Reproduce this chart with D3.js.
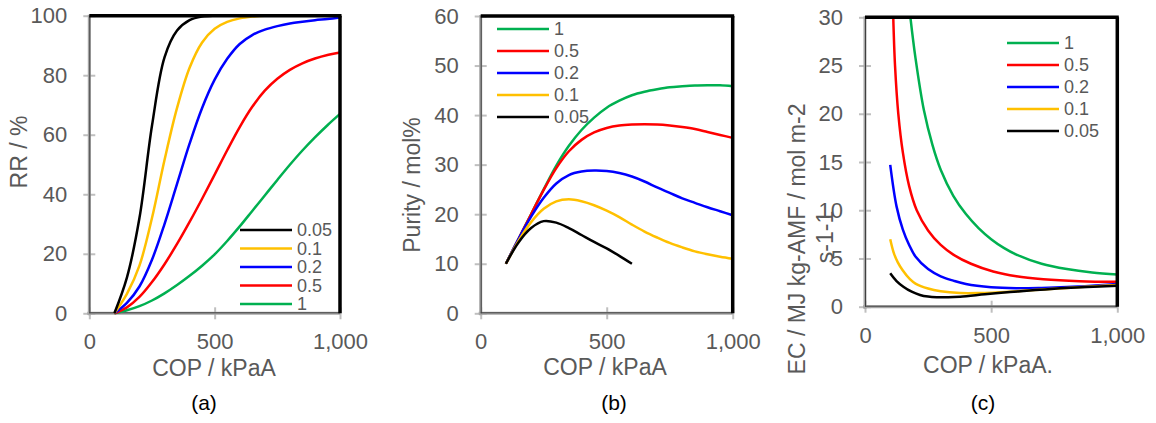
<!DOCTYPE html>
<html>
<head>
<meta charset="utf-8">
<script src="https://cdn.jsdelivr.net/npm/d3@7"></script>
<style>
  body { margin: 0; background: #fff; }
  text { font-family: "Liberation Sans", Arial, sans-serif; }
</style>
</head>
<body>
<svg id="chart" width="1156" height="423"></svg>
<script>
(function () {

    // series labels / colours shared by all three panels
    const names = ["0.05", "0.1", "0.2", "0.5", "1"];
    const colors = ["#000000", "#FFC000", "#0000FF", "#FF0000", "#00B050"];
    const xTicks = [0, 500, 1000];

    // COP points used for (a) and (b): 100, 150, ... 1000
    const copX = [100, 150, 200, 250, 300, 350, 400, 450, 500, 550, 600, 650, 700, 750, 800, 850, 900, 950, 1000];

    // (a) RR / %
    const rr005 = [0, 12, 32, 63, 86, 95, 98.5, 99.7, 100, 100, 100, 100, 100, 100, 100, 100, 100, 100, 100];
    const rr01 = [0, 6.5, 16, 32, 51.5, 69, 82.5, 91, 95.6, 97.9, 99.1, 99.7, 100, 100, 100, 100, 100, 100, 100];
    const rr02 = [0, 3.5, 9, 18, 30, 43.5, 57, 69, 78.5, 85.5, 90.5, 93.5, 95.3, 96.5, 97.4, 98, 98.5, 98.9, 99.4];
    const rr05 = [0, 2, 5.5, 10.5, 16.5, 23.3, 30.7, 38.5, 46.6, 54.8, 62.6, 69.4, 74.8, 78.8, 81.8, 84, 85.6, 86.8, 87.6];
    const rr1 = [0, 1, 2.4, 4.3, 6.7, 9.5, 12.6, 16, 19.8, 24.3, 29.2, 34.4, 39.6, 44.8, 49.9, 54.7, 59.1, 63.2, 67];
    const rrTicks = [0, 20, 40, 60, 80, 100];

    // (b) Purity / mol%
    const pu005 = [10, 14.3, 17.2, 18.6, 18.3, 17.2, 15.8, 14.4, 13.1, 11.6, 10, null, null, null, null, null, null, null, null];
    const pu01 = [10, 14.6, 18.4, 21.1, 22.6, 23, 22.6, 21.8, 20.7, 19.4, 17.9, 16.5, 15.3, 14.2, 13.3, 12.5, 11.9, 11.4, 11];
    const pu02 = [10, 15, 19.5, 23.3, 26.2, 27.9, 28.6, 28.8, 28.7, 28.3, 27.6, 26.6, 25.4, 24.3, 23.2, 22.3, 21.4, 20.6, 19.8];
    const pu05 = [10, 15, 20, 24.9, 29.3, 32.7, 35, 36.5, 37.4, 37.9, 38.1, 38.15, 38.1, 37.9, 37.6, 37.2, 36.6, 36, 35.4];
    const pu1 = [10, 15, 20, 25, 29.8, 33.8, 37, 39.5, 41.5, 42.9, 44, 44.7, 45.2, 45.6, 45.8, 45.95, 46, 46, 45.8];
    const puTicks = [0, 10, 20, 30, 40, 50, 60];

    // (c) EC, each curve has its own COP points
    const ec005X = [100, 125, 152, 185, 218, 250, 284, 330, 377, 475, 575, 675, 773, 880, 1000];
    const ec005 = [3.46, 2.65, 2.07, 1.55, 1.22, 1.05, 0.98, 0.98, 1.04, 1.28, 1.52, 1.72, 1.9, 2.05, 2.18];
    const ec01X = [100, 115, 130, 150, 178, 200, 250, 300, 377, 450, 575, 700, 800, 900, 1000];
    const ec01 = [7, 5.5, 4.6, 3.75, 2.85, 2.4, 1.88, 1.6, 1.42, 1.42, 1.56, 1.78, 1.95, 2.1, 2.25];
    const ec02X = [100, 125, 150, 175, 200, 250, 300, 350, 400, 500, 600, 700, 800, 900, 1000];
    const ec02 = [14.7, 10.4, 8, 6.4, 5.2, 3.9, 3.15, 2.7, 2.35, 2.02, 1.92, 1.95, 2.03, 2.17, 2.35];
    const ec05X = [112, 119, 132, 150, 175, 205, 250, 300, 350, 420, 508, 600, 707, 850, 1000];
    const ec05 = [30, 25, 20, 16, 12.5, 10, 7.9, 6.4, 5.4, 4.45, 3.65, 3.15, 2.85, 2.65, 2.58];
    const ec1X = [180, 200, 234, 267, 300, 350, 400, 450, 500, 550, 600, 700, 800, 900, 1000];
    const ec1 = [30, 25.8, 20.3, 16.8, 14.2, 11.5, 9.6, 8.15, 7.0, 6.1, 5.4, 4.45, 3.9, 3.55, 3.35];
    const ecTicks = [0, 5, 10, 15, 20, 25, 30];

    const zip = (xs, ys) => xs.map((x, i) => [x, ys[i]]);

    const panels = [
        {
            left: 89.3, right: 340, top: 15.7, bottom: 313.3, ymax: 100, yTicks: rrTicks,
            series: [zip(copX, rr005), zip(copX, rr01), zip(copX, rr02), zip(copX, rr05), zip(copX, rr1)],
            order: [4, 3, 2, 1, 0], legendOrder: [0, 1, 2, 3, 4],
            legend: { x: 240, y: 230, step: 18.5 },
            yTitle: [{ t: "RR / %", x: 19, y: 152 }],
            xTitle: { t: "COP / kPaA", x: 214, y: 376 },
            tag: { t: "(a)", x: 204, y: 410 }
        },
        {
            left: 480.7, right: 732.7, top: 16, bottom: 313.3, ymax: 60, yTicks: puTicks,
            series: [zip(copX, pu005), zip(copX, pu01), zip(copX, pu02), zip(copX, pu05), zip(copX, pu1)],
            order: [4, 3, 2, 1, 0], legendOrder: [4, 3, 2, 1, 0],
            legend: { x: 497, y: 29, step: 22 },
            yTitle: [{ t: "Purity / mol%", x: 412, y: 185 }],
            xTitle: { t: "COP / kPaA", x: 605, y: 375 },
            tag: { t: "(b)", x: 614, y: 410 }
        },
        {
            left: 865, right: 1117.3, top: 17.3, bottom: 306.7, ymax: 30, yTicks: ecTicks,
            series: [zip(ec005X, ec005), zip(ec01X, ec01), zip(ec02X, ec02), zip(ec05X, ec05), zip(ec1X, ec1)],
            order: [4, 3, 2, 1, 0], legendOrder: [4, 3, 2, 1, 0],
            legend: { x: 1007, y: 43, step: 22 },
            yTitle: [{ t: "EC / MJ kg-AMF / mol m-2", x: 796.5, y: 239 }, { t: "s-1-1", x: 825, y: 237 }],
            xTitle: { t: "COP / kPaA.", x: 988, y: 373 },
            tag: { t: "(c)", x: 983, y: 410 }
        }
    ];

    const svg = d3.select("#chart");
    svg.append("rect").attr("width", 1156).attr("height", 423).attr("fill", "#fff");

    panels.forEach(p => {
        const x = d3.scaleLinear().domain([0, 1000]).range([p.left, p.right]);
        const y = d3.scaleLinear().domain([0, p.ymax]).range([p.bottom, p.top]);
        const g = svg.append("g");

        // y axis
        const ya = g.append("g")
            .attr("transform", `translate(${p.left},0)`)
            .call(d3.axisLeft(y).tickValues(p.yTicks).tickSize(12).tickPadding(10));
        ya.select(".domain").remove();
        ya.selectAll("line").attr("x1", 6).attr("x2", -6).attr("stroke", "#bfbfbf").attr("stroke-width", 2);
        ya.selectAll("text").attr("fill", "#595959").style("font-size", "22px");

        // x axis
        const xa = g.append("g")
            .attr("transform", `translate(0,${p.bottom})`)
            .call(d3.axisBottom(x).tickValues(xTicks).tickFormat(d3.format(",")).tickSize(12).tickPadding(8.5));
        xa.select(".domain").remove();
        xa.selectAll("line").attr("y1", -6).attr("y2", 6).attr("stroke", "#bfbfbf").attr("stroke-width", 2);
        xa.selectAll("text").attr("fill", "#595959").style("font-size", "22px");

        // frame: grey axes on left/bottom
        g.append("line").attr("x1", p.left).attr("x2", p.left).attr("y1", p.top - 1).attr("y2", p.bottom + 2)
            .attr("stroke", "#a6a6a6").attr("stroke-width", 3);
        g.append("line").attr("x1", p.left - 2).attr("x2", p.right).attr("y1", p.bottom).attr("y2", p.bottom)
            .attr("stroke", "#a6a6a6").attr("stroke-width", 3);
        g.append("line").attr("x1", p.left + 0.5).attr("x2", p.left + 0.5).attr("y1", p.top).attr("y2", p.bottom)
            .attr("stroke", "#404040").attr("stroke-width", 1);
        g.append("line").attr("x1", p.left).attr("x2", p.right).attr("y1", p.bottom - 0.5).attr("y2", p.bottom - 0.5)
            .attr("stroke", "#404040").attr("stroke-width", 1);

        // curves
        const line = d3.line()
            .defined(d => d[1] !== null)
            .x(d => x(d[0]))
            .y(d => y(d[1]))
            .curve(d3.curveCatmullRom.alpha(0.5));

        g.append("g").selectAll("path")
            .data(p.order)
            .enter()
            .append("path")
            .attr("d", i => line(p.series[i]))
            .attr("fill", "none")
            .attr("stroke", i => colors[i])
            .attr("stroke-width", 2.5);

        // heavy black top/right edges
        g.append("line").attr("x1", p.left).attr("x2", p.right + 1.5).attr("y1", p.top).attr("y2", p.top)
            .attr("stroke", "#000").attr("stroke-width", 3.5);
        g.append("line").attr("x1", p.right).attr("x2", p.right).attr("y1", p.top).attr("y2", p.bottom)
            .attr("stroke", "#000").attr("stroke-width", 3.5);

        // legend
        const lg = g.append("g").selectAll("g")
            .data(p.legendOrder)
            .enter()
            .append("g")
            .attr("transform", (d, k) => `translate(${p.legend.x},${p.legend.y + k * p.legend.step})`);
        lg.append("line").attr("x1", 0).attr("x2", 52).attr("stroke", i => colors[i]).attr("stroke-width", 2.5);
        lg.append("text").attr("x", 57).attr("dy", "0.36em").attr("fill", "#595959")
            .style("font-size", "18px").text(i => names[i]);

        // titles
        p.yTitle.forEach(t => {
            g.append("text")
                .attr("transform", `translate(${t.x},${t.y}) rotate(-90)`)
                .attr("text-anchor", "middle").attr("dy", "0.36em")
                .attr("fill", "#595959").style("font-size", "23px")
                .text(t.t);
        });
        g.append("text").attr("x", p.xTitle.x).attr("y", p.xTitle.y)
            .attr("text-anchor", "middle").attr("fill", "#595959").style("font-size", "23px")
            .text(p.xTitle.t);
        g.append("text").attr("x", p.tag.x).attr("y", p.tag.y)
            .attr("text-anchor", "middle").attr("fill", "#000").style("font-size", "21px")
            .text(p.tag.t);
    });

})();
</script>
</body>
</html>
